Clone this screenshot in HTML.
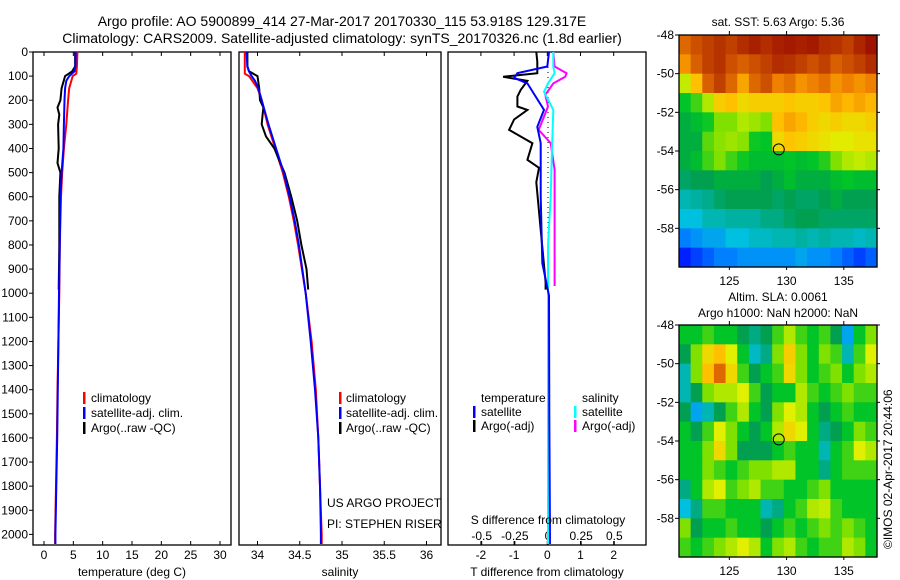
<!DOCTYPE html>
<html><head><meta charset="utf-8"><style>
html,body{margin:0;padding:0;background:#fff;}
svg{display:block;font-family:"Liberation Sans",sans-serif;}
</style></head><body>
<svg id="fig" width="900" height="580" viewBox="0 0 900 580" xmlns="http://www.w3.org/2000/svg">
<text x="342" y="26" font-size="14" text-anchor="middle">Argo profile: AO 5900899_414 27-Mar-2017 20170330_115 53.918S 129.317E</text>
<text x="342" y="43" font-size="14" text-anchor="middle">Climatology: CARS2009. Satellite-adjusted climatology: synTS_20170326.nc (1.8d earlier)</text>
<g id="p1"></g>
<g id="p2"></g>
<g id="p3"></g>
<g id="m1"></g>
<g id="m2"></g>
<text x="778" y="26" font-size="12" text-anchor="middle">sat. SST: 5.63 Argo: 5.36</text>
<text x="778" y="301" font-size="12" text-anchor="middle">Altim. SLA: 0.0061</text>
<text x="778" y="317" font-size="12" text-anchor="middle">Argo h1000: NaN h2000: NaN</text>
<text x="892" y="549" font-size="12" transform="rotate(-90 892 549)">©IMOS 02-Apr-2017 20:44:06</text>
</svg>
<script>
// ---------- data ----------
const depthTicks=[0,100,200,300,400,500,600,700,800,900,1000,1100,1200,1300,1400,1500,1600,1700,1800,1900,2000];
const tempTicks=[0,5,10,15,20,25,30];
const salTicks=[34,34.5,35,35.5,36];
const salTickLabels=["34","34.5","35","35.5","36"];
const tdiffTicks=[-2,-1,0,1,2];
const sdiffTicks=[-0.5,-0.25,0,0.25,0.5];
const sdiffTickLabels=["-0.5","-0.25","0","0.25","0.5"];

const climDepth=[0,60,90,100,150,200,300,400,500,600,700,800,1000,1200,1400,1600,1800,2000,2040];
const climTemp=[5.7,5.6,5.5,4.9,4.3,4.1,3.8,3.4,3.1,2.9,2.8,2.7,2.6,2.45,2.3,2.2,2.05,1.9,1.9];
const climSal=[33.85,33.85,33.85,33.9,34.0,34.05,34.12,34.21,34.3,34.37,34.43,34.48,34.57,34.64,34.69,34.72,34.74,34.76,34.76];
const satDepth=[0,60,80,100,120,150,200,300,400,500,600,700,800,1000,1200,1400,1600,1800,2000,2040];
const satTemp=[5.4,5.35,5.2,4.3,3.8,3.6,3.5,3.4,3.3,3.0,2.8,2.75,2.7,2.55,2.45,2.35,2.25,2.1,1.95,1.95];
const satSal=[33.87,33.88,33.9,33.93,33.97,34.01,34.05,34.13,34.22,34.31,34.38,34.44,34.49,34.57,34.63,34.68,34.72,34.74,34.75,34.75];
const argoDepth=[0,60,80,100,150,200,230,260,300,350,400,460,500,600,700,800,900,985];
const argoTemp=[5.3,5.3,4.8,3.6,3.0,2.8,2.3,2.6,2.4,2.45,2.5,2.3,2.8,2.6,2.6,2.6,2.55,2.5];
const argoSal=[33.88,33.88,33.9,34.0,34.02,34.03,34.07,34.06,34.05,34.1,34.2,34.27,34.32,34.4,34.47,34.52,34.58,34.6];

const tdSatDepth=[0,60,88,107,130,185,240,310,378,600,875,1010,1500,2040];
const tdSat=[0.05,0.0,-0.9,-1.0,-0.6,-0.35,-0.1,-0.3,-0.2,-0.2,-0.15,0.05,0.06,0.08];
const tdArgoDepth=[0,40,88,103,120,157,185,226,240,280,323,378,447,480,540,737,955,985];
const tdArgo=[-0.33,-0.3,-0.3,-1.33,-0.6,-0.8,-0.9,-0.9,-0.6,-1.0,-1.15,-0.45,-0.6,-0.25,-0.33,-0.2,-0.05,-0.05];
const sdArgoDepth=[0,60,88,103,130,178,226,268,323,378,488,700,970];
const sdArgo=[0.04,0.05,0.14,0.13,0.04,-0.02,0.0,-0.03,-0.07,0.02,0.05,0.05,0.05];
const sdSatDepth=[0,60,88,130,165,240,400,600,800,1200,2040];
const sdSat=[0.04,0.04,0.05,0.0,-0.03,0.04,0.03,0.02,0.0,0.0,0.0];

const mapLons=[125,130,135];
const mapLats=[-48,-50,-52,-54,-56,-58];
const argoLon=129.317, argoLat=-53.918;
const sstGrid=[
[.85,.88,.9,.92,.9,.93,.95,.93,.95,.96,.95,.96,.93,.92,.9,.94,.97],
[.8,.86,.9,.92,.88,.86,.88,.9,.93,.92,.9,.88,.9,.86,.88,.9,.93],
[.62,.75,.86,.9,.85,.78,.85,.88,.82,.84,.8,.82,.84,.8,.82,.8,.82],
[.45,.5,.6,.72,.75,.7,.72,.72,.72,.74,.72,.72,.74,.78,.76,.78,.76],
[.42,.44,.46,.55,.55,.6,.58,.55,.75,.78,.76,.72,.7,.72,.7,.7,.72],
[.42,.42,.52,.56,.58,.56,.46,.45,.7,.74,.72,.7,.68,.66,.66,.68,.68],
[.42,.44,.5,.55,.5,.46,.44,.44,.44,.45,.44,.45,.48,.55,.6,.62,.6],
[.38,.4,.4,.42,.42,.42,.42,.4,.42,.44,.42,.42,.42,.44,.45,.44,.44],
[.3,.32,.34,.38,.4,.4,.4,.4,.38,.4,.38,.38,.4,.42,.4,.4,.4],
[.25,.25,.3,.3,.32,.32,.32,.35,.35,.38,.4,.4,.38,.38,.38,.38,.38],
[.18,.2,.22,.22,.25,.25,.28,.28,.3,.3,.32,.3,.32,.3,.3,.28,.3],
[.12,.14,.16,.18,.18,.2,.2,.2,.2,.2,.22,.2,.2,.18,.16,.14,.16]];
const slaGrid=[
[.45,.45,.5,.45,.45,.4,.35,.4,.5,.6,.5,.45,.5,.4,.22,.45,.55],
[.4,.55,.7,.75,.65,.45,.28,.35,.55,.72,.55,.45,.55,.5,.3,.5,.65],
[.3,.55,.75,.85,.7,.5,.4,.45,.5,.7,.55,.45,.5,.55,.45,.55,.6],
[.3,.4,.55,.6,.6,.65,.5,.4,.45,.45,.6,.5,.45,.5,.55,.5,.5],
[.4,.22,.3,.4,.5,.6,.45,.4,.55,.65,.6,.45,.4,.45,.5,.45,.45],
[.45,.4,.5,.65,.55,.45,.4,.45,.6,.7,.65,.45,.35,.4,.45,.55,.5],
[.45,.45,.55,.7,.55,.4,.4,.4,.45,.5,.45,.45,.3,.45,.5,.65,.6],
[.45,.45,.55,.5,.45,.5,.55,.55,.6,.6,.45,.45,.35,.45,.5,.5,.5],
[.35,.45,.6,.65,.5,.55,.6,.5,.5,.45,.45,.5,.55,.45,.45,.45,.45],
[.25,.35,.5,.5,.45,.45,.45,.3,.35,.45,.5,.6,.62,.5,.45,.45,.45],
[.55,.4,.45,.45,.5,.45,.45,.4,.45,.5,.45,.5,.55,.5,.55,.5,.45],
[.5,.45,.5,.55,.6,.65,.6,.45,.55,.6,.5,.45,.5,.5,.6,.55,.45]];

// ---------- helpers ----------
const NS="http://www.w3.org/2000/svg";
function mk(parent,tag,attrs){const e=document.createElementNS(NS,tag);for(const k in attrs)e.setAttribute(k,attrs[k]);parent.appendChild(e);return e;}
const TOP=52,BOT=545;
const yD=d=>TOP+d*0.2412;
function lin(d0,d1,r0,r1){return v=>r0+(v-d0)*(r1-r0)/(d1-d0);}

function frame(g,x0,x1){
  const r=mk(g,'rect',{x:x0,y:TOP,width:x1-x0,height:BOT-TOP,fill:'none',stroke:'#000','stroke-width':1.3});
  
}
function xTicks(g,xs,vals,labels,name){
  vals.forEach((v,i)=>{
    const x=xs(v);
    const t1=mk(g,'line',{x1:x,x2:x,y1:BOT,y2:BOT-4,stroke:'#000'});
    
    const t2=mk(g,'line',{x1:x,x2:x,y1:TOP,y2:TOP+4,stroke:'#000'});
    
    const t=mk(g,'text',{x:x,y:559,'font-size':12,'text-anchor':'middle'});t.textContent=labels[i];
    
  });
}
function line(g,xs,vals,depths,color,name){
  const pts=vals.map((v,i)=>xs(v).toFixed(1)+','+yD(depths[i]).toFixed(1)).join(' ');
  const p=mk(g,'polyline',{points:pts,fill:'none',stroke:color,'stroke-width':2,'stroke-linejoin':'miter'});
  
}
function label(g,x,y,txt,name,size,anchor){
  const t=mk(g,'text',{x:x,y:y,'font-size':size||12,'text-anchor':anchor||'start'});t.textContent=txt;
  return t;
}
function legBar(g,x,y,color,name){
  const r=mk(g,'rect',{x:x,y:y-10,width:2.5,height:12,fill:color});
  
}

// ---------- panel 1: temperature ----------
const p1=document.getElementById('p1');
const xT=lin(0,30,44,220);
frame(p1,33,231);
depthTicks.forEach(d=>{
  const y=yD(d);
  const tk=mk(p1,'line',{x1:33,x2:29,y1:y,y2:y,stroke:'#000'});
  
  label(p1,28,y+4,String(d),'depth-tick-label',12,'end');
});
xTicks(p1,xT,tempTicks,tempTicks.map(String),'temperature-axis');
line(p1,xT,climTemp,climDepth,'#ff0000','climatology-temperature-line');
line(p1,xT,argoTemp,argoDepth,'#000000','argo-temperature-line');
line(p1,xT,satTemp,satDepth,'#0000ff','satellite-temperature-line');
label(p1,132,576,'temperature (deg C)','temperature-axis-title',12,'middle');
legBar(p1,83,402,'#ff0000','legend-climatology-swatch');label(p1,91,402,'climatology','legend-climatology');
legBar(p1,83,417,'#0000ff','legend-satellite-swatch');label(p1,91,417,'satellite-adj. clim.','legend-satellite');
legBar(p1,83,432,'#000000','legend-argo-swatch');label(p1,91,432,'Argo(..raw -QC)','legend-argo');

// ---------- panel 2: salinity ----------
const p2=document.getElementById('p2');
const xS=lin(34,36,257.5,426.5);
frame(p2,239,441);
xTicks(p2,xS,salTicks,salTickLabels,'salinity-axis');
line(p2,xS,climSal,climDepth,'#ff0000','climatology-salinity-line');
line(p2,xS,argoSal,argoDepth,'#000000','argo-salinity-line');
line(p2,xS,satSal,satDepth,'#0000ff','satellite-salinity-line');
label(p2,340,576,'salinity','salinity-axis-title',12,'middle');
legBar(p2,339,402,'#ff0000','legend-climatology-swatch');label(p2,346,402,'climatology','legend-climatology');
legBar(p2,339,417,'#0000ff','legend-satellite-swatch');label(p2,346,417,'satellite-adj. clim.','legend-satellite');
legBar(p2,339,432,'#000000','legend-argo-swatch');label(p2,346,432,'Argo(..raw -QC)','legend-argo');
label(p2,327,507,'US ARGO PROJECT','pi-project-label');
label(p2,327,528,'PI: STEPHEN RISER','pi-name-label');

// ---------- panel 3: differences ----------
const p3=document.getElementById('p3');
const xTd=lin(0,1,547.3,580.5);
const xSd=lin(0,1,548,680.6);
frame(p3,448,646);
const zl=mk(p3,'line',{x1:548,x2:548,y1:TOP,y2:BOT,stroke:'#000','stroke-dasharray':'1,4'});

xTicks(p3,xTd,tdiffTicks,tdiffTicks.map(String),'t-difference-axis');
sdiffTicks.forEach((v,i)=>{
  const x=xSd(v);
  const tk=mk(p3,'line',{x1:x,x2:x,y1:BOT,y2:BOT-4,stroke:'#000'});
  
  label(p3,x,540,sdiffTickLabels[i],'s-difference-tick-label',12,'middle');
});
line(p3,xTd,tdArgo,tdArgoDepth,'#000000','argo-temperature-difference-line');
line(p3,xSd,sdArgo,sdArgoDepth,'#ff00ff','argo-salinity-difference-line');
line(p3,xSd,sdSat,sdSatDepth,'#00ffff','satellite-salinity-difference-line');
line(p3,xTd,tdSat,tdSatDepth,'#0000ff','satellite-temperature-difference-line');
label(p3,548,524,'S difference from climatology','s-difference-axis-title',12,'middle');
label(p3,547,576,'T difference from climatology','t-difference-axis-title',12,'middle');
label(p3,481,402,'temperature','legend-temperature-header');
label(p3,582,402,'salinity','legend-salinity-header');
legBar(p3,473,416,'#0000ff','legend-t-satellite-swatch');label(p3,481,416,'satellite','legend-t-satellite');
legBar(p3,473,430,'#000000','legend-t-argo-swatch');label(p3,481,430,'Argo(-adj)','legend-t-argo');
legBar(p3,574,416,'#00ffff','legend-s-satellite-swatch');label(p3,582,416,'satellite','legend-s-satellite');
legBar(p3,574,430,'#ff00ff','legend-s-argo-swatch');label(p3,582,430,'Argo(-adj)','legend-s-argo');

// ---------- maps ----------
const stops=[[0,[0,0,127]],[0.1,[0,0,255]],[0.18,[0,128,255]],[0.25,[0,192,224]],[0.32,[0,176,160]],[0.4,[0,160,80]],[0.45,[0,196,40]],[0.55,[128,224,0]],[0.65,[224,240,0]],[0.75,[255,192,0]],[0.82,[240,128,0]],[0.9,[192,64,0]],[1,[144,0,0]]];
function cmap(v){
  for(let i=1;i<stops.length;i++){if(v<=stops[i][0]){const a=stops[i-1],b=stops[i];const f=(v-a[0])/(b[0]-a[0]);
    const c=a[1].map((x,k)=>Math.round(x+(b[1][k]-x)*f));return 'rgb('+c.join(',')+')';}}
  return 'rgb(144,0,0)';
}
function drawMap(id,grid,top,bot,prefix){
  const g=document.getElementById(id);
  const L=679,R=877;
  const xL=lin(120.6,137.9,L,R), yL=lin(-48,-60,top,bot);
  const nr=grid.length,nc=grid[0].length;
  const cw=(R-L)/nc,ch=(bot-top)/nr;
  grid.forEach((row,r)=>row.forEach((v,c)=>{
    const rc=mk(g,'rect',{x:(L+c*cw).toFixed(2),y:(top+r*ch).toFixed(2),width:(cw+0.6).toFixed(2),height:(ch+0.6).toFixed(2),fill:cmap(v)});
    
  }));
  const fr=mk(g,'rect',{x:L,y:top,width:R-L,height:bot-top,fill:'none',stroke:'#000','stroke-width':1.3});
  
  mapLons.forEach(lon=>{
    const x=xL(lon);
    const a=mk(g,'line',{x1:x,x2:x,y1:top,y2:top-4,stroke:'#000'});
    const b=mk(g,'line',{x1:x,x2:x,y1:bot,y2:bot+3,stroke:'#000'});
    label(g,x,bot+18,String(lon),prefix+'-lon-label',12,'middle');
  });
  mapLats.forEach(lat=>{
    const y=yL(lat);
    const a=mk(g,'line',{x1:L,x2:L-4,y1:y,y2:y,stroke:'#000'});
    const b=mk(g,'line',{x1:R,x2:R+3,y1:y,y2:y,stroke:'#000'});
    label(g,L-5,y+4,String(lat),prefix+'-lat-label',12,'end');
  });
  const ci=mk(g,'circle',{cx:xL(argoLon),cy:yL(argoLat),r:5.5,fill:'none',stroke:'#000','stroke-width':1});
  
}
drawMap('m1',sstGrid,35,267,'sst-map');
drawMap('m2',slaGrid,325,557,'sla-map');
</script>
</body></html>
